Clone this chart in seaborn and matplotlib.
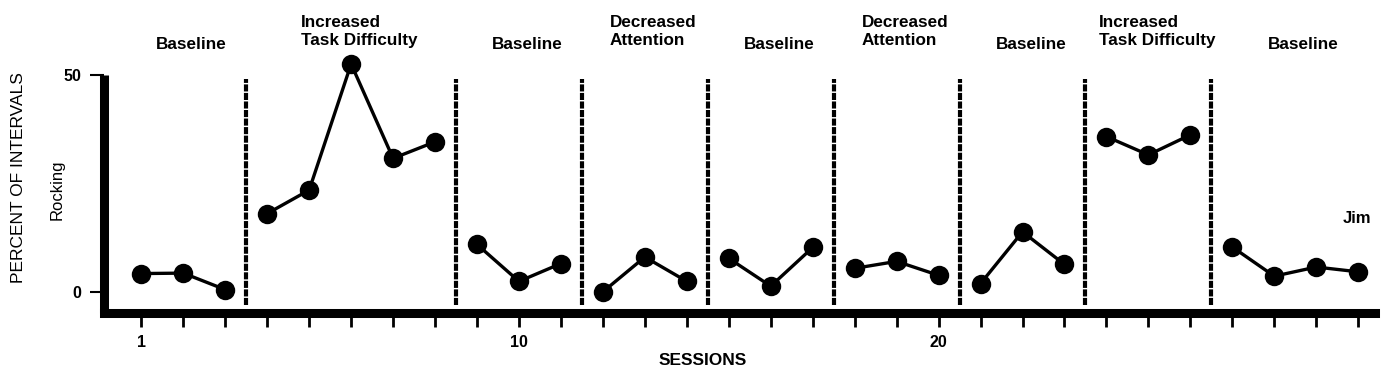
import matplotlib.pyplot as plt
import numpy as np
import pandas as pd
import seaborn as sns

phase_names = [
    "Baseline",
    "Increased\nTask Difficulty",
    "Baseline",
    "Decreased\nAttention",
    "Baseline",
    "Decreased\nAttention",
    "Baseline",
    "Increased\nTask Difficulty",
    "Baseline",
]
phase_lengths = [3, 5, 3, 3, 3, 3, 3, 3, 4]
rocking = [
    4.3, 4.4, 0.6,
    18.1, 23.5, 52.5, 30.8, 34.6,
    11.0, 2.5, 6.6,
    0.1, 8.1, 2.5,
    7.8, 1.4, 10.3,
    5.5, 7.1, 3.9,
    2.0, 13.9, 6.4,
    35.8, 31.6, 36.2,
    10.4, 3.7, 5.8, 4.7,
]
sessions = list(range(1, len(rocking) + 1))
tick_labels = {1: "1", 10: "10", 20: "20"}

phase_id = np.repeat(np.arange(len(phase_lengths)), phase_lengths)
df = pd.DataFrame({"session": sessions, "pct": rocking, "phase": phase_id})

sns.set_style("white")
plt.rcParams["font.family"] = ["Liberation Sans", "DejaVu Sans"]
plt.rcParams["text.color"] = "black"

fig = plt.figure(figsize=(13.9, 3.8), dpi=100)
ax = fig.add_axes([0.0745, 0.176, 0.9147, 0.627])

sns.lineplot(
    data=df, x="session", y="pct", units="phase", estimator=None,
    color="black", linewidth=2.4, marker="o", markersize=14,
    markeredgewidth=0, ax=ax, legend=False, clip_on=False,
)

# phase change lines
ends = np.cumsum(phase_lengths)
starts = ends - np.array(phase_lengths) + 1
for b in ends[:-1]:
    ax.vlines(b + 0.5, -3, 49, colors="black", linewidth=3,
              linestyles=(0, (1.7, 0.35)))

for name, s, e in zip(phase_names, starts, ends):
    cx = (s + e) / 2 + 0.2
    if "\n" in name:
        ax.text(cx, 60, name, ha="center", va="center", multialignment="left",
                fontsize=12.3, fontweight="bold", clip_on=False)
    else:
        ax.text(cx, 57, name, ha="center", va="center",
                fontsize=12.3, fontweight="bold", clip_on=False)

ax.text(29.64, 17, "Jim", ha="left", va="center", fontsize=12, fontweight="bold")

ax.set_xlim(0.1, 30.4)
ax.set_ylim(-4.8, 50)
ax.set_xticks(sessions)
ax.set_xticklabels([tick_labels.get(s, "") for s in sessions],
                   fontsize=11.5, fontweight="bold")
ax.set_yticks([0, 50])
ax.set_yticklabels(["0", "50"], fontsize=11.5, fontweight="bold")
ax.tick_params(axis="x", direction="out", length=10, width=2, pad=6,
               bottom=True, colors="black")
ax.tick_params(axis="y", direction="out", length=10, width=1.5, pad=6,
               left=True, colors="black")
ax.set_xlabel("")
ax.set_ylabel("")

for side in ["top", "right"]:
    ax.spines[side].set_visible(False)
for side in ["left", "bottom"]:
    ax.spines[side].set_linewidth(6.5)
    ax.spines[side].set_color("black")
ax.spines["left"].set_capstyle("butt")
ax.spines["bottom"].set_capstyle("projecting")

ax.text(0.4715, -0.197, "SESSIONS", transform=ax.transAxes, ha="center",
        va="center", fontsize=12.5, fontweight="bold")
ax.text(-0.0672, 0.571, "PERCENT OF INTERVALS", transform=ax.transAxes,
        ha="center", va="center", rotation=90, fontsize=12.5)
ax.text(-0.0366, 0.517, "Rocking", transform=ax.transAxes, ha="center",
        va="center", rotation=90, fontsize=12)

fig.savefig("out.png", dpi=100)
